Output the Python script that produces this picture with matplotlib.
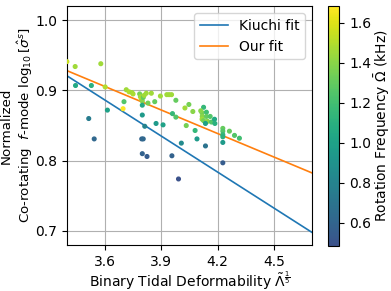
import matplotlib
matplotlib.use("Agg")
import matplotlib.pyplot as plt
from matplotlib.colors import ListedColormap
import numpy as np

lam = [3.400, 3.444, 3.580, 3.446, 3.530, 3.603, 3.516, 3.545, 3.615, 3.703,
       3.698, 3.715, 3.730, 3.745, 3.751, 3.786, 3.790, 3.795, 3.800, 3.805,
       3.810, 3.800, 3.821, 3.848, 3.866, 3.830, 3.896, 3.930, 3.942, 3.955,
       3.978, 3.960, 3.978, 4.026, 4.047, 4.068, 4.033, 4.080, 4.090, 4.007,
       3.800, 3.813, 3.873, 3.910, 3.797, 3.805, 3.800, 3.825, 3.957, 3.992,
       4.227, 4.135, 4.125, 4.117, 4.140, 4.118, 4.140, 4.160, 4.117, 4.125,
       4.146, 4.135, 4.167, 4.183, 4.185, 4.227, 4.227, 4.227, 4.227, 4.227,
       4.262, 4.289, 4.315, 4.110]
sigma = [0.941, 0.934, 0.938, 0.907, 0.907, 0.905, 0.860, 0.831, 0.872, 0.884,
         0.874, 0.901, 0.898, 0.897, 0.895, 0.895, 0.891, 0.888, 0.885, 0.890,
         0.893, 0.879, 0.896, 0.896, 0.884, 0.882, 0.892, 0.894, 0.894, 0.894,
         0.886, 0.867, 0.862, 0.875, 0.880, 0.870, 0.850, 0.843, 0.831, 0.825,
         0.865, 0.849, 0.853, 0.851, 0.831, 0.831, 0.810, 0.806, 0.807, 0.774,
         0.797, 0.821, 0.876, 0.868, 0.869, 0.863, 0.863, 0.863, 0.859, 0.857,
         0.856, 0.853, 0.855, 0.859, 0.853, 0.846, 0.842, 0.837, 0.834, 0.826,
         0.842, 0.836, 0.832, 0.871]
omega = [1.55, 1.45, 1.45, 1.05, 1.10, 1.50, 0.75, 0.62, 1.00, 1.25,
         1.683, 1.45, 1.50, 1.45, 1.48, 1.35, 1.45, 1.50, 1.40, 1.30,
         1.45, 1.05, 1.45, 1.45, 1.30, 1.35, 1.45, 1.45, 1.45, 1.45,
         1.30, 1.15, 1.25, 1.45, 1.35, 1.40, 1.35, 1.15, 0.95, 0.85,
         0.95, 0.80, 0.95, 1.00, 0.60, 0.62, 0.58, 0.55, 0.58, 0.485,
         0.55, 0.70, 1.15, 1.35, 1.20, 1.40, 1.30, 1.25, 1.45, 1.35,
         1.40, 1.00, 1.25, 1.05, 1.10, 1.30, 1.25, 1.15, 1.10, 0.95,
         1.30, 1.25, 1.20, 1.40]

# linear fits: y = a + b * x
kiuchi_a, kiuchi_b = 1.504, -0.1715
our_a, our_b = 1.309, -0.112

cmap = ListedColormap(plt.get_cmap("viridis")(np.linspace(0.25, 1.0, 256)))

fig = plt.figure(figsize=(3.91, 2.91), dpi=100)
ax = fig.add_axes([0.171, 0.158, 0.627, 0.821])
cax = fig.add_axes([0.838, 0.155, 0.030, 0.824])

sc = ax.scatter(lam, sigma, c=omega, cmap=cmap, s=7, zorder=3)
xx = np.linspace(3.4, 4.7, 50)
ax.plot(xx, kiuchi_a + kiuchi_b * xx, color="#1f77b4", lw=1.2, label="Kiuchi fit")
ax.plot(xx, our_a + our_b * xx, color="#ff7f0e", lw=1.2, label="Our fit")

ax.set_xlim(3.4, 4.7)
ax.set_ylim(0.68, 1.02)
ax.set_xticks([3.6, 3.9, 4.2, 4.5])
ax.set_yticks([0.7, 0.8, 0.9, 1.0])
ax.grid(True, color="#b0b0b0", lw=0.8)
ax.tick_params(labelsize=10)
ax.set_xlabel(r"Binary Tidal Deformability $\tilde{\Lambda}^{\frac{1}{5}}$", fontsize=10, labelpad=1)
ax.set_ylabel("Normalized\n" + r"Co-rotating  $f$-mode $\log_{10}[\hat{\sigma}^s]$", fontsize=9.6, labelpad=0)
ax.legend(loc="upper right", fontsize=10)

cb = fig.colorbar(sc, cax=cax)
cb.set_ticks([0.6, 0.8, 1.0, 1.2, 1.4, 1.6])
cb.ax.tick_params(labelsize=10)
cb.set_label(r"Rotation Frequency $\bar{\Omega}$ (kHz)", fontsize=10, labelpad=1)

fig.savefig("out.png", dpi=100)
